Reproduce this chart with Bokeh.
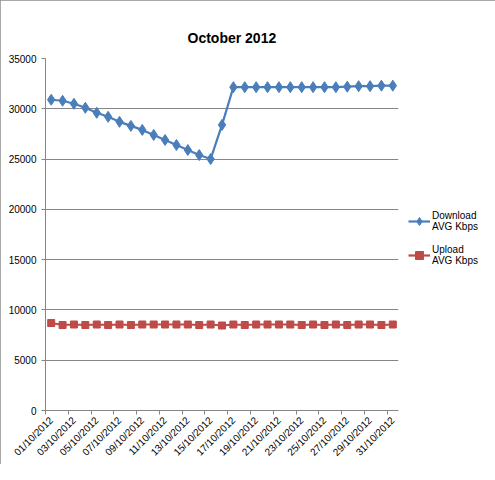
from bokeh.plotting import figure
from bokeh.models import Range1d, FixedTicker, Legend, LegendItem, ColumnDataSource, InlineStyleSheet
from bokeh.embed import file_html
from bokeh.resources import INLINE

dates = ["%02d/10/2012" % d for d in range(1, 32)]
download = [30900, 30800, 30500, 30100, 29600, 29200, 28700, 28300, 27900, 27400,
            26900, 26400, 25900, 25400, 25000, 28400, 32150, 32150, 32150, 32150,
            32150, 32150, 32150, 32150, 32150, 32150, 32200, 32250, 32250, 32300, 32300]
upload = [8700, 8500, 8550, 8500, 8550, 8500, 8550, 8500, 8550, 8550,
          8550, 8550, 8550, 8500, 8550, 8450, 8550, 8500, 8550, 8550,
          8550, 8550, 8500, 8550, 8500, 8550, 8500, 8550, 8550, 8500, 8550]
y_ticks = [0, 5000, 10000, 15000, 20000, 25000, 30000, 35000]

idx = list(range(len(dates)))
src = ColumnDataSource(dict(x=idx, d=download, u=upload, date=dates))

FONT = "Liberation Sans"
GRID = "#868686"
FW, FH = 353, 352

p = figure(frame_width=FW, frame_height=FH, output_backend="svg", toolbar_location=None,
           x_range=Range1d(-0.5, len(dates) - 0.5), y_range=Range1d(0, 35000),
           min_border_left=45, min_border_right=81, min_border_top=58, min_border_bottom=54,
           title="October 2012")
p.background_fill_color = "white"
p.border_fill_color = "white"
p.outline_line_color = None
p.stylesheets = [InlineStyleSheet(css=":host { box-shadow: inset 0 0 0 1px #8c8c8c; }")]

p.title.align = "left"
p.title.text_font = FONT
p.title.text_font_size = "14px"
p.title.text_font_style = "bold"
p.title.text_color = "black"
p.title.offset = 142
p.title.standoff = 26

# x axis
lab_idx = idx[::2]
p.xaxis.ticker = FixedTicker(ticks=lab_idx, minor_ticks=[i - 0.5 for i in lab_idx])
p.xaxis.major_label_overrides = {i: dates[i] for i in lab_idx}
p.xaxis.major_label_orientation = 0.785398
p.xaxis.major_tick_out = 0
p.xaxis.major_tick_in = 0
p.xaxis.minor_tick_out = 4
p.xaxis.minor_tick_in = 0
p.xaxis.minor_tick_line_color = GRID
p.xaxis.axis_line_color = GRID
p.xaxis.major_label_text_font = FONT
p.xaxis.major_label_text_font_size = "10px"
p.xaxis.major_label_text_color = "black"
p.xaxis.major_label_standoff = 4

# y axis
p.yaxis.ticker = FixedTicker(ticks=y_ticks)
p.yaxis.minor_tick_line_color = None
p.yaxis.major_tick_out = 4
p.yaxis.major_tick_in = 0
p.yaxis.major_tick_line_color = GRID
p.yaxis.axis_line_color = GRID
p.yaxis.major_label_text_font = FONT
p.yaxis.major_label_text_font_size = "10px"
p.yaxis.major_label_text_color = "black"
p.yaxis.major_label_standoff = 5
p.yaxis.formatter.use_scientific = False

p.xgrid.grid_line_color = None
p.ygrid.grid_line_color = GRID
p.ygrid.ticker = FixedTicker(ticks=y_ticks)

BLUE = "#4a7ebb"
RED = "#be4b48"
l1 = p.line("x", "d", source=src, line_color=BLUE, line_width=2.2)
m1 = p.scatter("x", "d", source=src, marker="diamond", size=11, fill_color=BLUE, line_color=BLUE)
l2 = p.line("x", "u", source=src, line_color=RED, line_width=2.2)
m2 = p.scatter("x", "u", source=src, marker="square", size=7, fill_color=RED, line_color=RED)

legend = Legend(items=[LegendItem(label="Download\nAVG Kbps", renderers=[l1, m1]),
                       LegendItem(label="Upload\nAVG Kbps", renderers=[l2, m2])],
                location=(10, 144), border_line_color=None, background_fill_alpha=0,
                padding=0, margin=0, spacing=12, glyph_width=22, label_standoff=2,
                label_text_font=FONT, label_text_font_size="10px", label_text_color="black")
p.add_layout(legend, "right")

open("out.html", "w").write(file_html(p, INLINE))
